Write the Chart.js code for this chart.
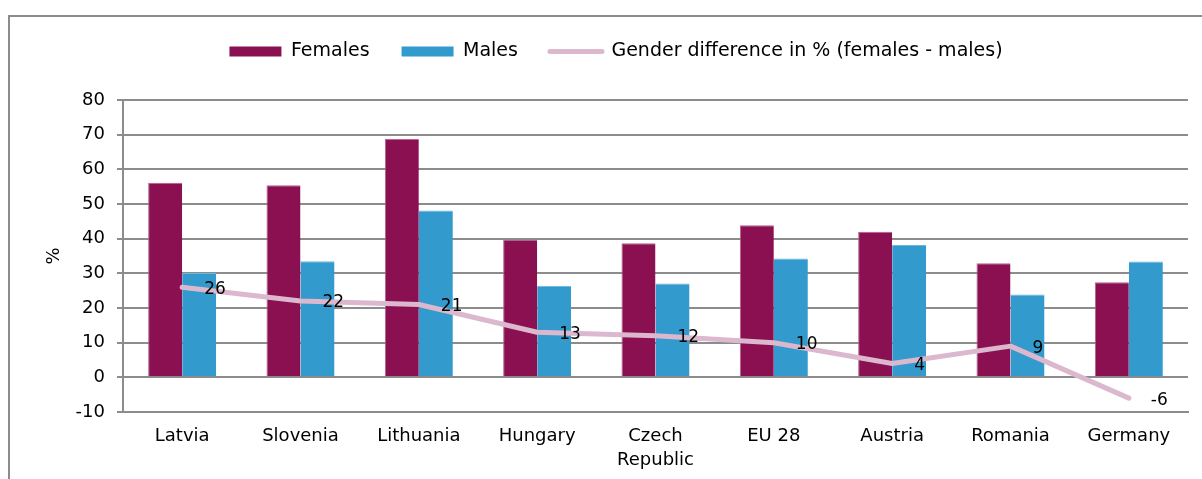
<!DOCTYPE html>
<html>
<head>
<meta charset="utf-8">
<script src="https://cdn.jsdelivr.net/npm/chart.js@4/dist/chart.umd.min.js"></script>
<style>
  html, body { margin: 0; padding: 0; overflow: hidden; background: #fff; }
  #frame {
    position: absolute; left: 8px; top: 15px; width: 1400px; height: 700px;
    border: 2px solid #8c8c8c;
  }
  #chart { position: absolute; left: 0; top: 0; }
</style>
</head>
<body>
<div id="frame"></div>
<canvas id="chart" width="1202" height="479"></canvas>
<script>
const countries = ['Latvia', 'Slovenia', 'Lithuania', 'Hungary', ['Czech', 'Republic'], 'EU 28', 'Austria', 'Romania', 'Germany'];
const females = [56.1, 55.4, 68.8, 39.6, 38.7, 43.9, 42.0, 32.9, 27.4];
const males = [30.1, 33.5, 48.1, 26.4, 27.1, 34.3, 38.2, 23.9, 33.4];
const genderDiff = [26, 22, 21, 13, 12, 10, 4, 9, -6];
const yTicks = [-10, 0, 10, 20, 30, 40, 50, 60, 70, 80];

const FONT = 'DejaVu Sans, Verdana, sans-serif';
Chart.defaults.font.family = FONT;
Chart.defaults.font.size = 18;
Chart.defaults.color = '#000';

// writes each value of the difference line just right of its point
const lineLabels = {
  id: 'lineLabels',
  afterDatasetsDraw(chart) {
    const meta = chart.getDatasetMeta(2);
    const { ctx } = chart;
    ctx.save();
    ctx.font = '17px ' + FONT;
    ctx.fillStyle = '#000';
    ctx.textAlign = 'left';
    ctx.textBaseline = 'middle';
    meta.data.forEach((pt, i) => {
      ctx.fillText(String(genderDiff[i]), pt.x + 22, pt.y + 2);
    });
    ctx.restore();
  },
};

// keeps the plot top at a fixed distance below the legend row
const legendSpace = {
  id: 'legendSpace',
  afterInit(chart) {
    const legend = chart.legend;
    const fit = legend.fit;
    legend.fit = function () {
      fit.call(this);
      this.height = 90;
    };
  },
};

new Chart(document.getElementById('chart'), {
  type: 'bar',
  data: {
    labels: countries,
    datasets: [
      {
        label: 'Females',
        data: females,
        backgroundColor: '#8b1052',
        borderColor: '#b0628c',
        borderWidth: { top: 1, left: 1, right: 0, bottom: 0 },
        pointStyle: 'rect',
        order: 1,
      },
      {
        label: 'Males',
        data: males,
        backgroundColor: '#339acd',
        borderColor: '#6cb6dc',
        borderWidth: { top: 1, left: 0, right: 0, bottom: 0 },
        pointStyle: 'rect',
        order: 1,
      },
      {
        type: 'line',
        label: 'Gender difference in % (females - males)',
        data: genderDiff,
        borderColor: '#dbb8ce',
        backgroundColor: '#dbb8ce',
        borderWidth: 5,
        borderCapStyle: 'round',
        borderJoinStyle: 'round',
        pointRadius: 0,
        pointStyle: 'line',
        order: 0,
      },
    ],
  },
  options: {
    responsive: false,
    animation: false,
    devicePixelRatio: 1,
    layout: { padding: { top: 10, left: 44, right: 14, bottom: 7 } },
    datasets: {
      bar: { categoryPercentage: 0.575, barPercentage: 1 },
    },
    plugins: {
      tooltip: { enabled: false },
      legend: {
        position: 'top',
        labels: {
          usePointStyle: true,
          pointStyleWidth: 52,
          boxHeight: 10,
          padding: 32,
          font: { size: 19 },
          sort: (a, b) => a.datasetIndex - b.datasetIndex,
          generateLabels(chart) {
            const items = Chart.defaults.plugins.legend.labels.generateLabels(chart);
            items.forEach((it) => {
              if (it.datasetIndex === 2) {
                it.lineWidth = 5;
                it.lineCap = 'round';
              } else {
                it.lineWidth = 0;
              }
            });
            return items;
          },
        },
      },
    },
    scales: {
      x: {
        afterFit(scale) { scale.height = 60; },
        grid: { display: false, drawTicks: false },
        border: { display: true, color: '#8c8c8c', width: 2 },
        ticks: { padding: 13, maxRotation: 0, autoSkip: false, font: { size: 18, lineHeight: 1.3 } },
      },
      y: {
        min: -10,
        max: 80,
        afterFit(scale) { scale.width = 79; },
        afterBuildTicks(scale) { scale.ticks = yTicks.map((v) => ({ value: v })); },
        title: { display: true, text: '%', padding: { top: 0, bottom: 0 }, font: { size: 18 } },
        grid: { color: '#8c8c8c', lineWidth: 2, tickLength: 6, drawTicks: true },
        border: { display: true, color: '#8c8c8c', width: 2 },
        ticks: { padding: 12, font: { size: 18 } },
      },
    },
  },
  plugins: [lineLabels, legendSpace],
});
</script>
</body>
</html>
